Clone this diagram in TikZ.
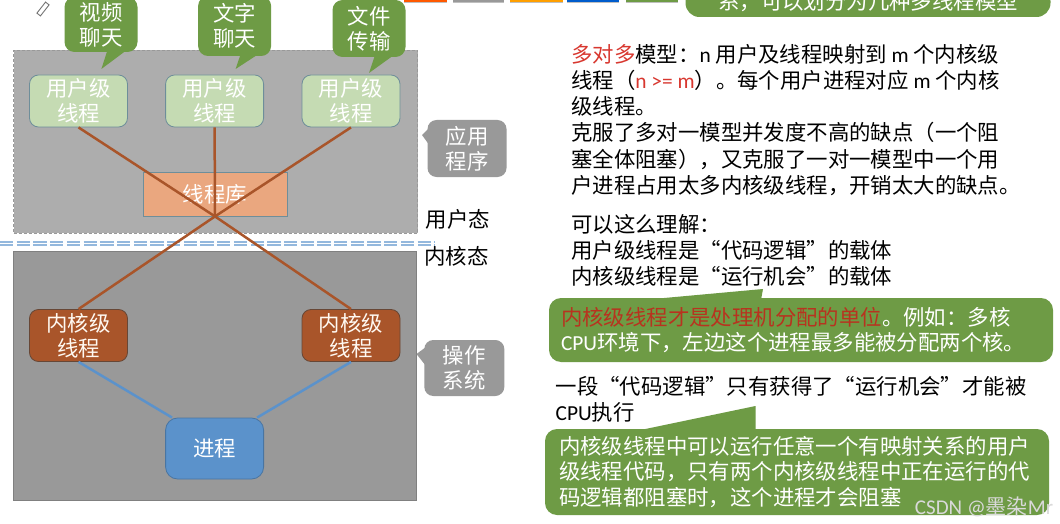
\documentclass[tikz,border=0pt]{standalone}
\usepackage{fontspec}
\setmainfont{Noto Sans CJK SC}
\newfontfamily\latinfont{Carlito}
\usepackage{xcolor}
\usetikzlibrary{arrows.meta,positioning}
\definecolor{usergray}{HTML}{ADADAD}
\definecolor{kernelgray}{HTML}{999999}
\definecolor{tipgreen}{HTML}{6E9B45}
\definecolor{threadgreen}{HTML}{C5DBB3}
\definecolor{libpeach}{HTML}{EAA77F}
\definecolor{linkbrown}{HTML}{A9552A}
\definecolor{linkblue}{HTML}{5B92CB}
\definecolor{nodeedge}{HTML}{6E8E9A}
\definecolor{alertred}{HTML}{D8372F}
\definecolor{darkred}{HTML}{B8331F}
\begin{document}
\begin{tikzpicture}[
  x=1pt, y=-1pt,
  area/.style={inner sep=0pt},
  uthread/.style={draw=nodeedge, line width=0.8pt, rounded corners=9pt, fill=threadgreen, text=white,
              minimum width=98pt, minimum height=52pt, inner sep=0pt,
              font=\fontsize{21.4}{25}\selectfont, align=center},
  kthread/.style={uthread, fill=linkbrown, draw=black!45!linkbrown!70!gray, text=white!95!orange},
  tipbox/.style={rounded corners=10pt, fill=tipgreen, text=white, inner sep=0pt,
              minimum width=73pt, font=\fontsize{21.4}{25}\selectfont, align=center},
  sidebox/.style={rounded corners=9pt, fill=kernelgray, text=white, inner sep=0pt,
              minimum width=79pt, minimum height=57pt,
              font=\fontsize{21.4}{25}\selectfont, align=center},
  notebox/.style={rounded corners=12pt, fill=tipgreen, text=white, inner xsep=12pt, inner ysep=0pt,
              font=\fontsize{21.4}{25.5}\selectfont, align=left},
  plain/.style={inner sep=0pt, font=\fontsize{21.4}{26.2}\selectfont, align=left},
  chip/.style={inner sep=0pt, minimum height=12pt},
  brownlink/.style={draw=linkbrown, line width=2.5pt},
  bluelink/.style={draw=linkblue, line width=2.5pt}
]
\useasboundingbox (0,0) rectangle (1060,524);
\clip (0,0) rectangle (1060,524);
\fill[white] (0,0) rectangle (1060,524);

%% Toolbar chips cut off by the top edge
\node[chip, fill=black!25, minimum width=43pt] at (425,-2.5) {};
\node[chip, fill=black!25, minimum width=51pt] at (478,-2.5) {};
\node[chip, fill=black!25, minimum width=53pt] at (536,-2.5) {};
\node[chip, fill=black!25, minimum width=52pt] at (593,-2.5) {};
\node[chip, fill=black!25, minimum width=52pt] at (652,-2.5) {};
\node[chip, fill=orange!70!red, minimum width=43pt] (chipa) at (425,-4) {};
\node[chip, fill=black!40, minimum width=51pt] (chipb) at (478,-4) {};
\node[chip, fill=orange!75!yellow, minimum width=53pt] (chipc) at (536,-4) {};
\node[chip, fill=blue!55!cyan!80!black, minimum width=52pt] (chipd) at (593,-4) {};
\node[chip, fill=tipgreen, minimum width=52pt] (chipe) at (652,-4) {};

%% Pencil mark
\node[draw=black!55, fill=white, line width=0.9pt, rotate=52, inner sep=0pt,
      minimum width=14pt, minimum height=4.5pt] (pencil) at (43,9) {};

%% Two areas
\node[area, draw=black!40, densely dashed, line width=0.5pt, fill=usergray,
      minimum width=404pt, minimum height=183pt] (userarea) at (215.5,141.5) {};
\node[area, draw=black!50, line width=0.6pt, fill=kernelgray,
      minimum width=403pt, minimum height=249pt] (kernelarea) at (214.5,375.5) {};

%% Boundary between the two areas
\coordinate (divleft) at (0,243.5);
\coordinate (divright) at (435,243.5);
\draw[draw=linkblue!65, double=white, double distance=1.6pt, line width=1.5pt,
      dash pattern=on 13.3pt off 3.4pt] (divleft) -- (divright);

%% User threads, library, kernel threads, process
\node[uthread] (uta) at (78.5,101) {用户级\\线程};
\node[uthread] (utb) at (214.6,101) {用户级\\线程};
\node[uthread] (utc) at (351,101) {用户级\\线程};
\node[draw=nodeedge, line width=0.8pt, fill=libpeach, text=white, inner sep=0pt,
      minimum width=144pt, minimum height=44pt, font=\fontsize{21.4}{25}\selectfont] (lib) at (215,194) {线程库};
\node[kthread] (kta) at (78.5,335.5) {内核级\\线程};
\node[kthread] (ktb) at (351,335.5) {内核级\\线程};
\node[uthread, fill=linkblue, draw=linkblue!80!black, minimum height=61pt, rounded corners=12pt] (proc) at (214.6,448.5) {进程};

%% Mapping lines
\draw[brownlink] (uta.south) -- (lib.south) -- (ktb.north);
\draw[brownlink] (utc.south) -- (lib.south) -- (kta.north);
\draw[brownlink] (utb.south) -- (lib.south);
\draw[bluelink] (kta.south) -- (proc.144);
\draw[bluelink] (ktb.south) -- (proc.36);

%% Green tips above the user threads
\fill[tipgreen] (107.5,50) -- (101.4,69) -- (126.8,50) -- cycle;
\node[tipbox, minimum height=55pt] (tipa) at (101,24.5) {视频\\聊天};
\fill[tipgreen] (240.7,54) -- (235.6,69) -- (258.6,54) -- cycle;
\node[tipbox, minimum height=60pt] (tipb) at (234.6,26) {文字\\聊天};
\fill[tipgreen] (375,55) -- (369,73) -- (394,55) -- cycle;
\node[tipbox, minimum height=57pt] (tipc) at (369,28.5) {文件\\传输};

%% Gray tips on the right of the areas
\fill[kernelgray] (430,127) -- (422,135) -- (430,146) -- cycle;
\node[sidebox] (apps) at (467,148.5) {应用\\程序};
\fill[kernelgray] (426,347) -- (416.5,354) -- (426,366) -- cycle;
\node[sidebox, minimum height=56pt, minimum width=80pt] (osys) at (464.3,368) {操作\\系统};
\node[plain] (ustate) at (458,219) {用户态};
\node[plain] (kstate) at (456.5,256) {内核态};

%% Header cut off by the top edge
\node[notebox, rounded corners=14pt, minimum width=365pt, minimum height=30pt, align=center] (header) at (868,2)
  {系，可以划分为几种多线程模型};

%% Text on the right
\node[plain, anchor=west] (model) at (571,120)
  {\textcolor{alertred}{多对多}模型：{\latinfont n} 用户及线程映射到 {\latinfont m} 个内核级\\
   线程（\textcolor{alertred}{\latinfont n >= m}）。每个用户进程对应 {\latinfont m} 个内核\\
   级线程。\\
   克服了多对一模型并发度不高的缺点（一个阻\\
   塞全体阻塞），又克服了一对一模型中一个用\\
   户进程占用太多内核级线程，开销太大的缺点。};
\node[plain, anchor=west] (carrier) at (571,250.5)
  {可以这么理解：\\
   用户级线程是“代码逻辑”的载体\\
   内核级线程是“运行机会”的载体};

\fill[tipgreen] (642,300) -- (763,289) -- (761,300) -- cycle;
\node[notebox, minimum width=504pt, minimum height=64pt, text width=480pt] (unit) at (801,330)
  {\textcolor{darkred}{内核级线程才是处理机分配的单位}。例如：多核\\
   {\latinfont CPU}环境下，左边这个进程最多能被分配两个核。};
\node[plain, anchor=west] (segment) at (555.4,399.5)
  {一段“代码逻辑”只有获得了“运行机会”才能被\\
   {\latinfont CPU}执行};
\fill[tipgreen] (631,432) -- (755.5,406) -- (755.5,432) -- cycle;
\node[notebox, inner xsep=14pt, minimum width=504pt, minimum height=86pt, text width=476pt] (run) at (797,472)
  {内核级线程中可以运行任意一个有映射关系的用户\\
   级线程代码，只有两个内核级线程中正在运行的代\\
   码逻辑都阻塞时，这个进程才会阻塞};
\node[inner sep=0pt, text=black!15, font=\fontsize{21}{24}\selectfont] (mark) at (984,507) {\latinfont CSDN @\rmfamily 墨染\latinfont Mr};
\end{tikzpicture}
\end{document}
